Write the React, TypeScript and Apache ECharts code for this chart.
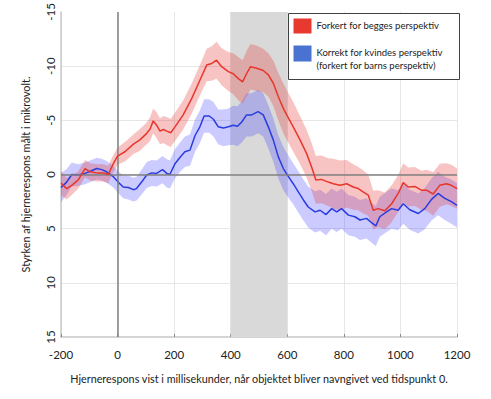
import React, { useEffect, useRef } from "react";
import * as echarts from "echarts";

const xTicks = [-200, 0, 200, 400, 600, 800, 1000, 1200];
const yTicks = [-15, -10, -5, 0, 5, 10, 15];
const shadedWindow = [400, 600];

const redName = "Forkert for begges perspektiv";
const blueName = "Korrekt for kvindes perspektiv";
const blueName2 = "(forkert for barns perspektiv)";

const redTime = [-200, -180, -162, -139, -115, -97, -74, -50, -33, -15, 0, 26, 56, 79, 103, 115, 126, 138, 150, 162, 174, 188, 203, 232, 262, 291, 315, 333, 350, 368, 392, 409, 427, 442, 456, 470, 492, 515, 533, 551, 568, 586, 598, 621, 645, 668, 686, 701, 721, 745, 763, 786, 810, 833, 851, 868, 886, 904, 921, 945, 969, 992, 1010, 1027, 1051, 1074, 1092, 1116, 1139, 1163, 1180, 1200];
const redMean = [0.8, 1.3, 1.0, 0.5, -0.55, -0.25, -0.15, -0.15, 0, -1.0, -1.7, -2.1, -2.8, -3.2, -3.8, -4.2, -4.95, -4.55, -4.0, -4.15, -4.0, -3.85, -4.4, -5.5, -7.0, -8.7, -10.1, -10.25, -10.55, -9.95, -9.5, -9.3, -8.85, -8.55, -9.3, -9.95, -9.8, -9.6, -9.2, -8.4, -7.2, -6.1, -5.5, -4.4, -3.2, -1.95, -0.7, 0.5, 0.45, 0.7, 0.85, 1.0, 0.85, 1.15, 1.3, 1.6, 1.9, 3.3, 3.15, 3.35, 2.7, 1.75, 0.75, 1.15, 1.1, 1.45, 1.45, 1.8, 1.0, 0.85, 1.0, 1.3];
const redErr = [1.1, 1.0, 0.9, 0.8, 0.8, 0.8, 0.8, 0.8, 0.8, 0.8, 0.8, 0.9, 0.9, 1.0, 1.0, 1.1, 1.15, 1.2, 1.2, 1.25, 1.3, 1.3, 1.3, 1.35, 1.4, 1.4, 1.5, 1.6, 1.7, 1.7, 1.8, 1.9, 2.0, 2.0, 2.1, 2.1, 2.1, 2.0, 2.0, 2.1, 2.2, 2.3, 2.3, 2.3, 2.2, 2.2, 2.2, 2.2, 2.2, 2.2, 2.3, 2.3, 2.2, 2.1, 2.0, 2.0, 1.9, 1.8, 1.7, 1.7, 1.7, 1.7, 1.8, 1.8, 1.8, 1.8, 1.9, 2.0, 2.0, 1.9, 1.9, 1.85];

const blueTime = [-200, -180, -162, -139, -115, -92, -74, -56, -39, -15, 2, 20, 38, 56, 67, 85, 103, 121, 138, 159, 174, 185, 203, 221, 238, 256, 274, 291, 306, 324, 339, 356, 374, 392, 409, 424, 439, 456, 474, 497, 515, 533, 551, 568, 586, 604, 621, 639, 657, 674, 698, 716, 737, 757, 775, 792, 816, 839, 857, 880, 898, 913, 927, 951, 969, 992, 1010, 1033, 1063, 1086, 1110, 1133, 1157, 1180, 1200];
const blueMean = [1.2, 0.7, 0, 0.05, -0.1, -0.35, -0.55, -0.45, -0.25, 0.2, 0.7, 1.15, 1.2, 1.4, 1.3, 0.7, 0.05, -0.15, -0.1, -0.45, -0.1, 0, -1.0, -1.6, -2.1, -2.25, -3.6, -4.4, -5.4, -5.4, -5.1, -4.4, -4.3, -4.4, -4.55, -4.45, -4.85, -5.5, -5.5, -5.8, -5.5, -4.4, -3.15, -1.65, -0.55, 0.2, 0.85, 1.6, 2.35, 3.0, 3.45, 3.3, 3.7, 3.15, 3.45, 3.15, 3.75, 3.9, 4.2, 4.05, 4.45, 4.75, 3.9, 3.45, 3.15, 3.3, 2.7, 3.25, 3.6, 3.15, 2.3, 1.75, 2.2, 2.5, 2.85];
const blueErr = [1.35, 1.2, 1.1, 1.0, 1.0, 1.0, 1.0, 1.0, 1.0, 1.0, 1.0, 1.05, 1.1, 1.1, 1.1, 1.15, 1.2, 1.2, 1.2, 1.25, 1.3, 1.3, 1.35, 1.35, 1.4, 1.45, 1.5, 1.5, 1.55, 1.55, 1.6, 1.6, 1.7, 1.7, 1.8, 1.85, 1.9, 2.0, 2.0, 2.0, 2.0, 2.0, 2.0, 2.0, 2.0, 1.95, 1.9, 1.9, 1.9, 1.9, 1.9, 1.9, 1.9, 1.85, 1.85, 1.85, 1.85, 1.85, 1.85, 1.85, 1.85, 1.85, 1.85, 1.85, 1.85, 1.85, 1.85, 1.85, 1.85, 1.9, 1.95, 2.0, 2.0, 2.05, 2.05];

const FONT = "Lato";

function bandSeries(time: number[], mean: number[], err: number[], fill: string, z: number) {
  const data = time.map((t, i) => [t, mean[i] - err[i], mean[i] + err[i]]);
  return {
    type: "custom",
    z,
    silent: true,
    clip: true,
    data,
    encode: { x: 0, y: [1, 2] },
    renderItem: (params: any, api: any) => {
      if (params.dataIndex !== 0) return null;
      const pts: number[][] = [];
      for (let i = 0; i < data.length; i++) pts.push(api.coord([data[i][0], data[i][1]]));
      for (let i = data.length - 1; i >= 0; i--) pts.push(api.coord([data[i][0], data[i][2]]));
      return { type: "polygon", shape: { points: pts }, style: { fill } };
    },
  };
}

export default function App() {
  const ref = useRef<HTMLDivElement>(null);
  useEffect(() => {
    document.body.style.margin = "0";
    if (!ref.current) return;
    const chart = echarts.init(ref.current, null, { renderer: "svg" });
    const option: any = {
      animation: false,
      textStyle: { fontFamily: FONT },
      grid: { left: 61, right: 34, top: 12, bottom: 62 },
      xAxis: {
        type: "value",
        min: xTicks[0],
        max: xTicks[xTicks.length - 1],
        interval: 200,
        name: "Hjernerespons vist i millisekunder, når objektet bliver navngivet ved tidspunkt 0.",
        nameLocation: "middle",
        nameGap: 36,
        nameTextStyle: { fontFamily: FONT, fontSize: 10.8, color: "#222" },
        axisLine: { onZero: false, lineStyle: { color: "#c8c8c8", width: 1.5 } },
        axisTick: { inside: true, length: 3, lineStyle: { color: "#888" } },
        axisLabel: { fontFamily: FONT, fontSize: 11.5, color: "#222", margin: 11, formatter: (v: number) => String(v) },
        splitLine: { show: true, lineStyle: { color: "#e6e6e6" } },
      },
      yAxis: {
        type: "value",
        inverse: true,
        min: yTicks[0],
        max: yTicks[yTicks.length - 1],
        interval: 5,
        name: "Styrken af hjernerespons målt i mikrovolt.",
        nameLocation: "middle",
        nameGap: 30,
        nameTextStyle: { fontFamily: FONT, fontSize: 10.8, color: "#222" },
        axisLine: { show: true, onZero: false, lineStyle: { color: "#c8c8c8", width: 1.5 } },
        axisTick: { show: false },
        axisLabel: { fontFamily: FONT, fontSize: 11.5, color: "#222", rotate: 90, margin: 5, formatter: (v: number) => String(v) },
        splitLine: { show: true, showMinLine: false, showMaxLine: false, lineStyle: { color: "#e6e6e6" } },
      },
      series: [
        {
          type: "custom",
          z: 1,
          silent: true,
          data: [[shadedWindow[0], shadedWindow[1]]],
          encode: { x: [0, 1] },
          renderItem: (params: any, api: any) => {
            const p0 = api.coord([api.value(0), yTicks[0]]);
            const p1 = api.coord([api.value(1), yTicks[yTicks.length - 1]]);
            return {
              type: "rect",
              shape: { x: p0[0], y: p0[1], width: p1[0] - p0[0], height: p1[1] - p0[1] },
              style: { fill: "#d9d9d9" },
            };
          },
        },
        bandSeries(blueTime, blueMean, blueErr, "rgba(70,70,255,0.28)", 2),
        bandSeries(redTime, redMean, redErr, "rgba(232,60,55,0.3)", 3),
        {
          type: "line",
          name: blueName,
          z: 4,
          data: blueTime.map((t, i) => [t, blueMean[i]]),
          showSymbol: false,
          lineStyle: { color: "#2a3be0", width: 1.5 },
          silent: true,
        },
        {
          type: "line",
          name: redName,
          z: 5,
          data: redTime.map((t, i) => [t, redMean[i]]),
          showSymbol: false,
          lineStyle: { color: "#e8362c", width: 1.5 },
          silent: true,
          markLine: {
            silent: true,
            symbol: ["none", "none"],
            label: { show: false },
            lineStyle: { color: "#808080", type: "solid", width: 1.5 },
            data: [{ xAxis: 0 }, { yAxis: 0 }],
          },
        },
      ],
      graphic: [
        {
          type: "group",
          left: 288,
          top: 13,
          z: 100,
          children: [
            { type: "rect", z: 100, shape: { x: 0, y: 0, width: 171, height: 66 }, style: { fill: "#fff", stroke: "#404040", lineWidth: 1 } },
            { type: "rect", z: 101, shape: { x: 5, y: 5, width: 18, height: 15 }, style: { fill: "#e8392f" } },
            { type: "text", z: 101, x: 28, y: 12, style: { text: redName, font: `9.5px ${FONT}`, fill: "#222", verticalAlign: "middle" } },
            { type: "rect", z: 101, shape: { x: 5, y: 32, width: 18, height: 16 }, style: { fill: "#4a72d0" } },
            { type: "text", z: 101, x: 28, y: 39, style: { text: blueName, font: `9.5px ${FONT}`, fill: "#222", verticalAlign: "middle" } },
            { type: "text", z: 101, x: 28, y: 52, style: { text: blueName2, font: `9.5px ${FONT}`, fill: "#222", verticalAlign: "middle" } },
          ],
        },
      ],
    };
    chart.setOption(option);
    return () => chart.dispose();
  }, []);
  return <div ref={ref} style={{ width: 491, height: 399 }} />;
}
